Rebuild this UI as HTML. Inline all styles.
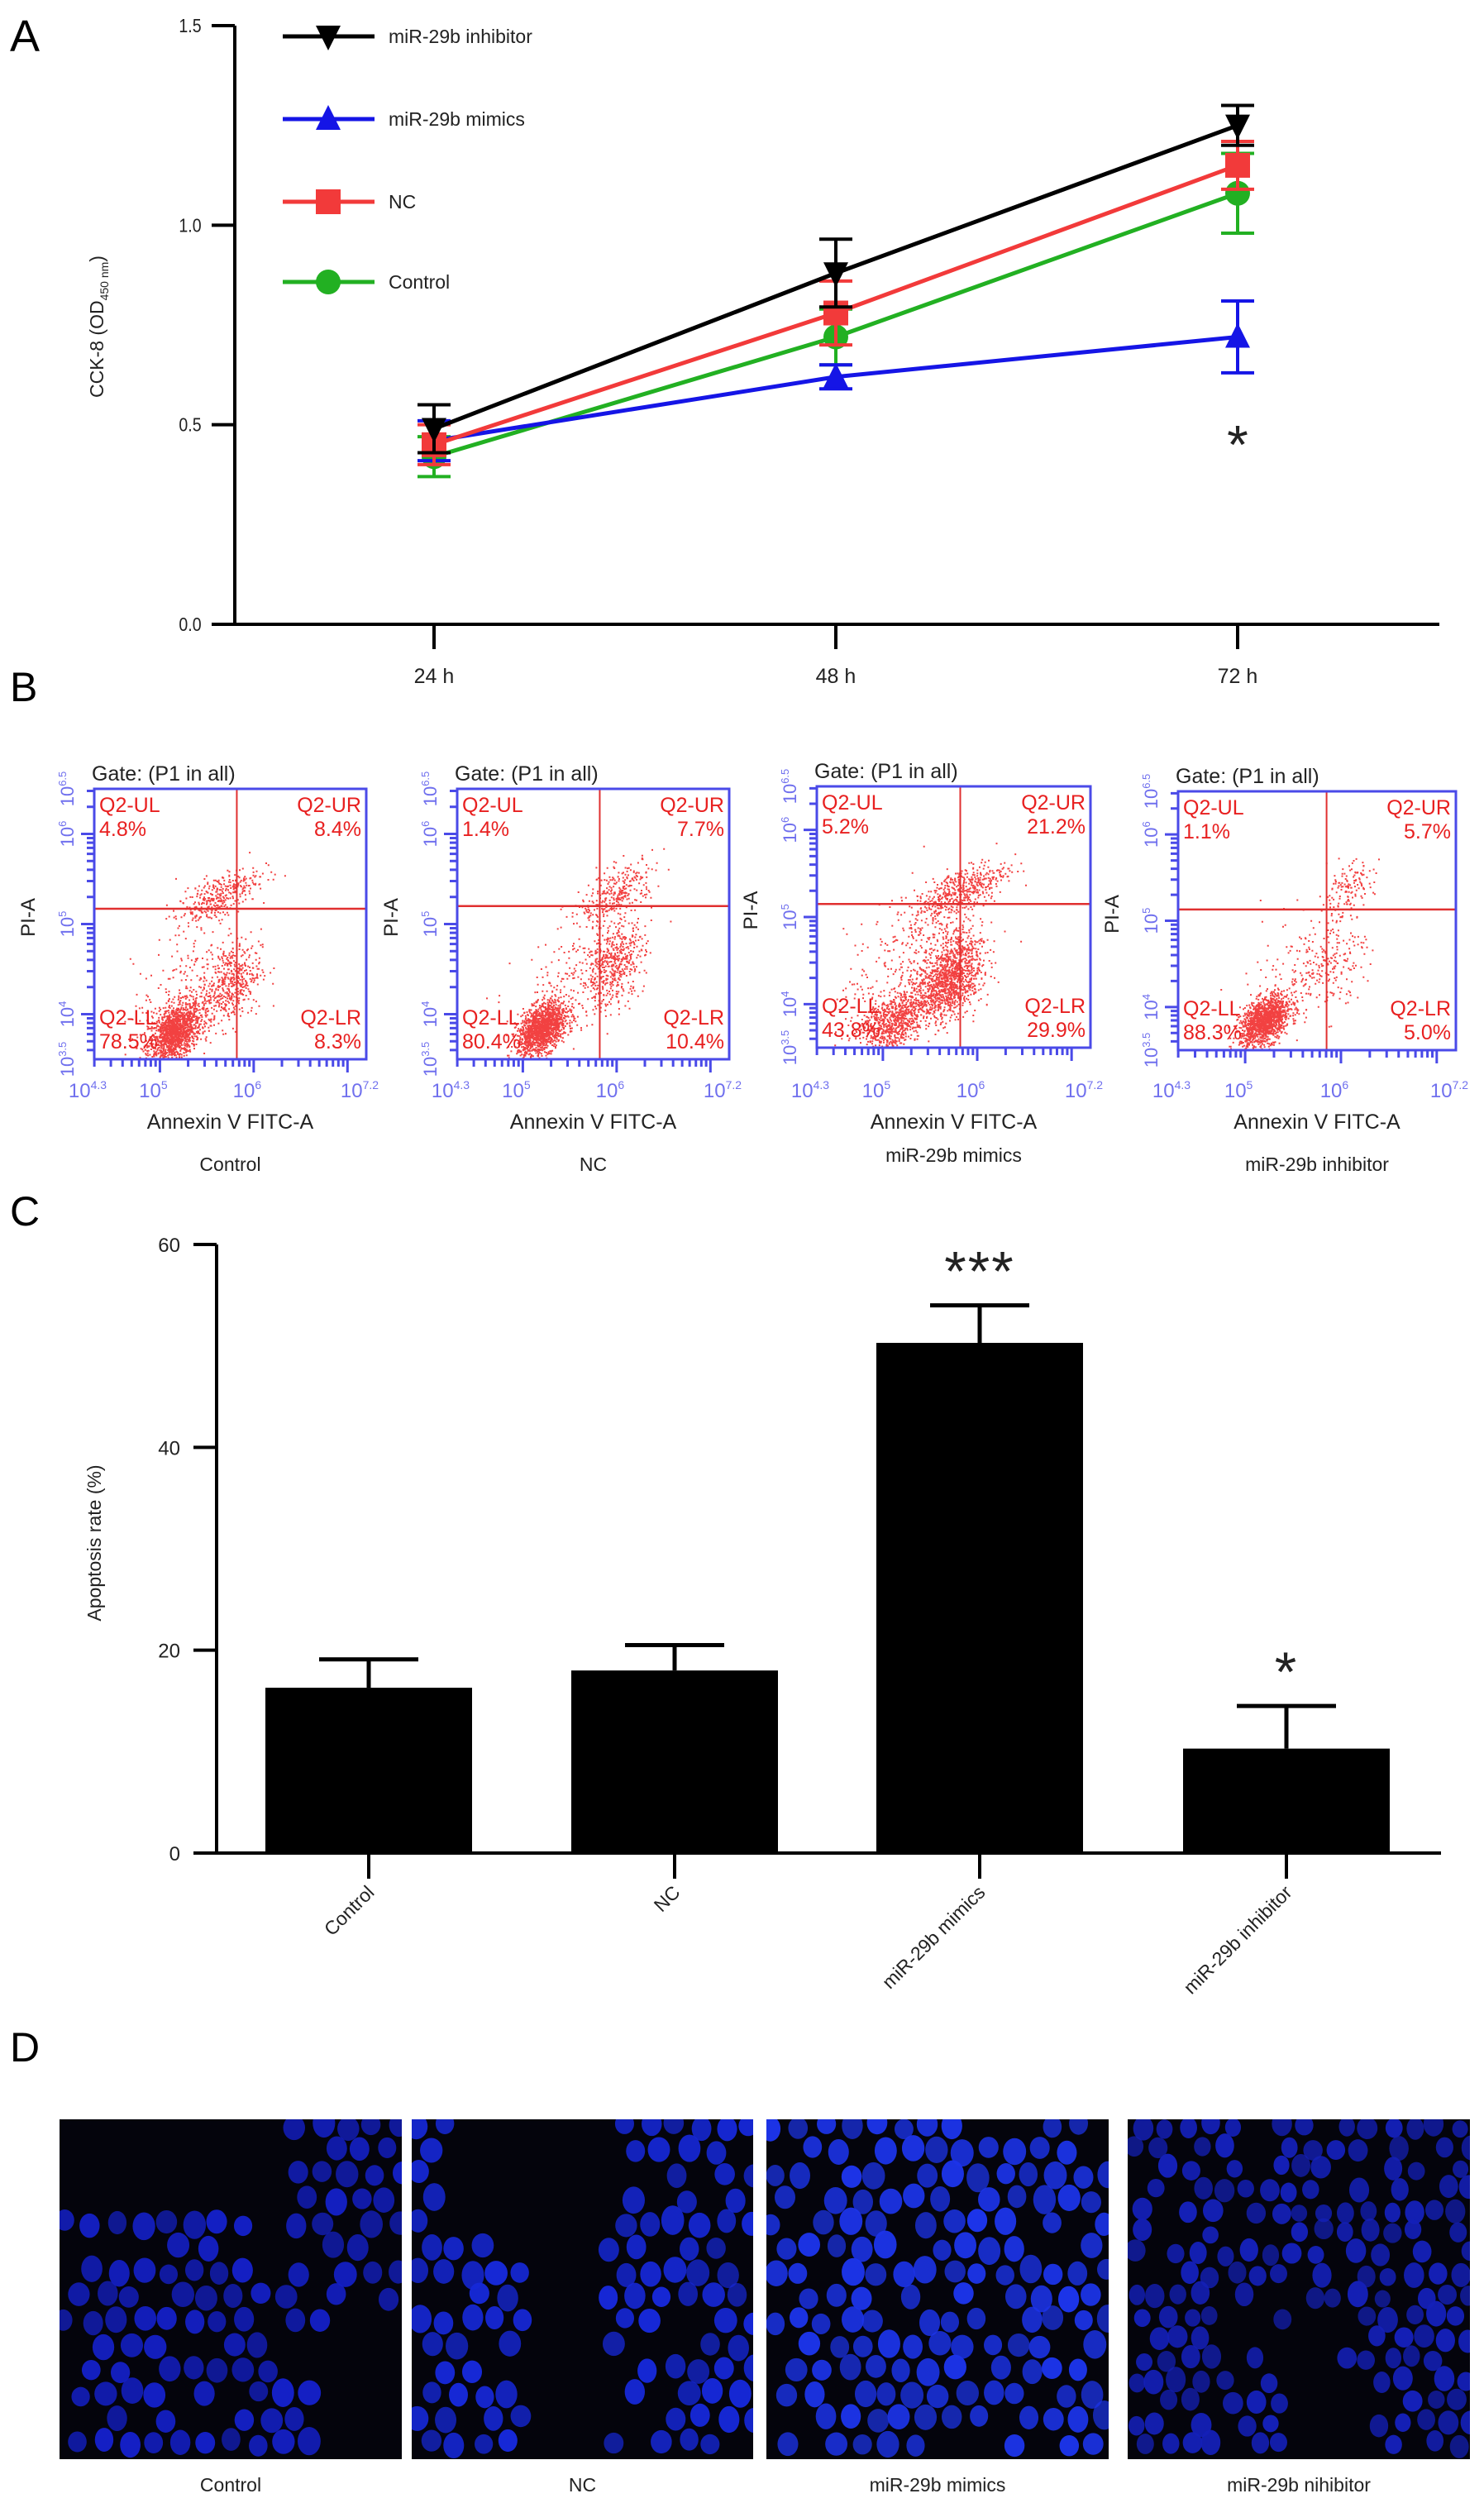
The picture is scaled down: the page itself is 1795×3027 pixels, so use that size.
<!DOCTYPE html>
<html><head><meta charset="utf-8">
<style>
html,body{margin:0;padding:0;background:#fff;}
svg{display:block;font-family:"Liberation Sans",Arial,sans-serif;}
</style></head>
<body>
<svg id="fig" width="1795" height="3027" viewBox="0 0 1795 3027" xmlns="http://www.w3.org/2000/svg">
<rect width="1795" height="3027" fill="#fff"/>
<g id="panelA"></g>
<g id="panelB"></g>
<g id="panelC"></g>
<g id="panelD"></g>
</svg>
<script>
// ===== Panel A data =====
const timeLabels = ["24 h","48 h","72 h"];
const seriesNames = ["miR-29b inhibitor","miR-29b mimics","NC","Control"];
const inhibitorVals = [0.49,0.88,1.25];
const inhibitorErr = [0.06,0.085,0.05];
const mimicsVals = [0.46,0.62,0.72];
const mimicsErr = [0.05,0.03,0.09];
const ncVals = [0.45,0.78,1.15];
const ncErr = [0.05,0.08,0.06];
const controlVals = [0.42,0.72,1.08];
const controlErr = [0.05,0.07,0.10];
const yTicksA = [0,0.5,1.0,1.5];
const yTickLabelsA = ["0.0","0.5","1.0","1.5"];

// ===== Panel C data =====
const groupsC = ["Control","NC","miR-29b mimics","miR-29b inhibitor"];
const apoptosisVals = [16.3,18.0,50.3,10.3];
const apoptosisErr = [2.8,2.5,3.7,4.2];
const sigMarks = ["","","***","*"];
const yTicksC = [0,20,40,60];

// ===== Panel B data =====
const flowSamples = ["Control","NC","miR-29b mimics","miR-29b inhibitor"];
const pctUL = ["4.8%","1.4%","5.2%","1.1%"];
const pctUR = ["8.4%","7.7%","21.2%","5.7%"];
const pctLL = ["78.5%","80.4%","43.8%","88.3%"];
const pctLR = ["8.3%","10.4%","29.9%","5.0%"];
// clusters: [x log, y log, sx, sy, count]
const clustersControl = [[5.15,3.8,0.14,0.15,1400],[5.75,4.35,0.16,0.22,450],[5.6,5.3,0.22,0.12,350],[5.3,4.3,0.3,0.3,200]];
const clustersNC = [[5.2,3.85,0.13,0.13,1500],[5.95,4.55,0.17,0.22,500],[6.0,5.35,0.2,0.14,300],[5.5,4.4,0.3,0.3,150]];
const clustersMimics = [[5.1,3.8,0.2,0.16,800],[5.7,4.3,0.17,0.22,1200],[5.8,5.3,0.25,0.13,500],[5.3,4.5,0.35,0.35,300]];
const clustersInhib = [[5.2,3.85,0.13,0.13,1400],[5.85,4.5,0.2,0.25,200],[6.05,5.35,0.14,0.15,140],[5.5,4.5,0.35,0.35,80]];
const xLogMin=4.3, xLogMax=7.2, yLogMin=3.5, yLogMax=6.5;
const gateX = [5.82,5.82,5.82,5.85], gateY = [5.17,5.2,5.15,5.13];

const NS="http://www.w3.org/2000/svg";
function mk(parent,tag,attrs,text){
  const e=document.createElementNS(NS,tag);
  for(const k in attrs) e.setAttribute(k,attrs[k]);
  if(text!==undefined) e.textContent=text;
  parent.appendChild(e);return e;
}
let seed=12345;
function rnd(){seed=(seed*1103515245+12345)%2147483648;return seed/2147483648;}
function gauss(){let u=rnd()||1e-9,v=rnd();return Math.sqrt(-2*Math.log(u))*Math.cos(2*Math.PI*v);}

// ========== PANEL A ==========
(function(){
  const g=document.getElementById('panelA');
  const axX=284, y0=755, yTop=31, xR=1741;
  const yS=v=>y0-(v/1.5)*(y0-yTop);
  const xPos=[525,1011,1497];
  const xS=i=>xPos[0]+i*(xPos[2]-xPos[0])/2;
  let t=mk(g,'text',{x:12,y:62,'font-size':54,fill:'#000'},'A');
  
  let l=mk(g,'line',{x1:axX,y1:yTop,x2:axX,y2:y0+2,stroke:'#000','stroke-width':4});
  
  l=mk(g,'line',{x1:axX,y1:y0,x2:xR,y2:y0,stroke:'#000','stroke-width':4});
  
  yTicksA.forEach((v,i)=>{
    mk(g,'line',{x1:axX-28,y1:yS(v),x2:axX,y2:yS(v),stroke:'#000','stroke-width':4});
    const tt=mk(g,'text',{x:230,y:yS(v)+8,'font-size':23,'text-anchor':'middle',fill:'#222',transform:`translate(230 ${yS(v)}) scale(0.85 1) translate(-230 ${-yS(v)})`},yTickLabelsA[i]);
    
  });
  timeLabels.forEach((lab,i)=>{
    mk(g,'line',{x1:xS(i),y1:y0,x2:xS(i),y2:y0+30,stroke:'#000','stroke-width':4});
    const tt=mk(g,'text',{x:xS(i),y:826,'font-size':25,'text-anchor':'middle',fill:'#222'},lab);
    
  });
  const yt=mk(g,'text',{x:0,y:0,'font-size':23,'text-anchor':'middle',fill:'#222',transform:'translate(125 395) rotate(-90)'});
  
  yt.innerHTML='CCK-8 (OD<tspan font-size="14" dy="6">450 nm</tspan><tspan dy="-6">)</tspan>';

  const series=[
    {name:seriesNames[3],vals:controlVals,err:controlErr,color:'#22b022',m:'circle'},
    {name:seriesNames[1],vals:mimicsVals,err:mimicsErr,color:'#1515e6',m:'up'},
    {name:seriesNames[2],vals:ncVals,err:ncErr,color:'#f23a3a',m:'square'},
    {name:seriesNames[0],vals:inhibitorVals,err:inhibitorErr,color:'#000',m:'down'}
  ];
  function marker(p,type,x,y,c){
    let e;
    if(type==='circle') e=mk(p,'circle',{cx:x,cy:y,r:15,fill:c});
    else if(type==='square') e=mk(p,'rect',{x:x-15,y:y-15,width:30,height:30,fill:c});
    else if(type==='up') e=mk(p,'polygon',{points:`${x},${y-17} ${x-15},${y+13} ${x+15},${y+13}`,fill:c});
    else e=mk(p,'polygon',{points:`${x},${y+17} ${x-15},${y-13} ${x+15},${y-13}`,fill:c});
    return e;
  }
  series.forEach(s=>{
    const sg=mk(g,'g',{});
    
    
    const pl=mk(sg,'polyline',{points:s.vals.map((v,i)=>xS(i)+','+yS(v)).join(' '),fill:'none',stroke:s.color,'stroke-width':5});
    
    s.vals.forEach((v,i)=>{
      const x=xS(i);
      const eb=mk(sg,'path',{d:`M${x},${yS(v-s.err[i])}V${yS(v+s.err[i])}M${x-20},${yS(v+s.err[i])}H${x+20}M${x-20},${yS(v-s.err[i])}H${x+20}`,stroke:s.color,'stroke-width':4,fill:'none'});
      
      const mm=marker(sg,s.m,x,yS(v),s.color);
      
    });
  });
  const star=mk(g,'text',{x:xS(2),y:yS(0.49)+42,'font-size':66,'text-anchor':'middle',fill:'#222'},'*');
  
  // legend
  const legY=[44,144,244,341];
  const legOrder=[{n:seriesNames[0],c:'#000',m:'down'},{n:seriesNames[1],c:'#1515e6',m:'up'},{n:seriesNames[2],c:'#f23a3a',m:'square'},{n:seriesNames[3],c:'#22b022',m:'circle'}];
  legOrder.forEach((o,i)=>{
    const lg=mk(g,'g',{});
    
    mk(lg,'line',{x1:342,y1:legY[i],x2:453,y2:legY[i],stroke:o.c,'stroke-width':5});
    marker(lg,o.m,397,legY[i],o.c);
    mk(lg,'text',{x:470,y:legY[i]+8,'font-size':23,fill:'#222'},o.n);
  });
})();

// ========== PANEL B ==========
(function(){
  const g=document.getElementById('panelB');
  let t=mk(g,'text',{x:12,y:848,'font-size':50,fill:'#000'},'B');
  
  const boxes=[[114,954,329,327],[553,954,329,327],[988,951,331,316],[1425,957,336,313]];
  const clusters=[clustersControl,clustersNC,clustersMimics,clustersInhib];
  const sampleY=[1416,1416,1405,1416];
  const blue='#4a4ae8', red='#f02020';
  boxes.forEach((b,k)=>{
    const [bx,by,bw,bh]=b;
    const pg=mk(g,'g',{});
    
    
    const xS=v=>bx+(v-xLogMin)/(xLogMax-xLogMin)*bw;
    const yS=v=>by+bh-(v-yLogMin)/(yLogMax-yLogMin)*bh;
    let d='';
    clusters[k].forEach(c=>{
      for(let n=0;n<c[4];n++){
        const gx=gauss(), gy=gauss();
        const lx=c[0]+gx*c[2], ly=c[1]+gy*c[3]+gx*c[2]*0.5;
        const px=xS(lx), py=yS(ly);
        if(px<bx+2||px>bx+bw-2||py<by+2||py>by+bh-2) continue;
        d+=`M${px.toFixed(1)},${py.toFixed(1)}h2v2h-2z`;
      }
    });
    const dots=mk(pg,'path',{d:d,fill:red,opacity:0.85});
    
    mk(pg,'line',{x1:xS(gateX[k]),y1:by,x2:xS(gateX[k]),y2:by+bh,stroke:'#e03030','stroke-width':2});
    mk(pg,'line',{x1:bx,y1:yS(gateY[k]),x2:bx+bw,y2:yS(gateY[k]),stroke:'#e03030','stroke-width':2.5});
    const rb=mk(pg,'rect',{x:bx,y:by,width:bw,height:bh,fill:'none',stroke:blue,'stroke-width':3});
    
    let tk='';
    for(let e=4;e<=7;e++){for(let m=1;m<10;m++){const v=e+Math.log10(m);if(v<xLogMin||v>xLogMax)continue;const x=xS(v);tk+=`M${x},${by+bh}v${m===1?16:9}`;}}
    for(let e=3;e<=6;e++){for(let m=1;m<10;m++){const v=e+Math.log10(m);if(v<yLogMin||v>yLogMax)continue;const y=yS(v);tk+=`M${bx},${y}h${m===1?-16:-9}`;}}
    mk(pg,'path',{d:tk,stroke:blue,'stroke-width':3,fill:'none'});
    [[4.3,'4.3'],[5,'5'],[6,'6'],[7.2,'7.2']].forEach(p=>{
      const tl=mk(pg,'text',{x:xS(p[0])-8,y:1327,'font-size':24,'text-anchor':'middle',fill:'#7070ee'});
      tl.innerHTML=`10<tspan font-size="14" dy="-10">${p[1]}</tspan>`;
      
    });
    [[3.5,'3.5'],[4,'4'],[5,'5'],[6,'6'],[6.5,'6.5']].forEach(p=>{
      const y=yS(p[0]);
      const tl=mk(pg,'text',{x:0,y:0,'font-size':22,'text-anchor':'middle',fill:'#7070ee',transform:`translate(${bx-25} ${y}) rotate(-90)`});
      tl.innerHTML=`10<tspan font-size="13" dy="-9">${p[1]}</tspan>`;
      
    });
    const yl=mk(pg,'text',{x:0,y:0,'font-size':24,'text-anchor':'middle',fill:'#222',transform:`translate(${bx-72} ${by+bh/2-8}) rotate(-90)`},'PI-A');
    
    const xl=mk(pg,'text',{x:bx+bw/2,y:1365,'font-size':25,'text-anchor':'middle',fill:'#222'},'Annexin V FITC-A');
    
    const gt=mk(pg,'text',{x:bx-3,y:by-10,'font-size':25,fill:'#222'},'Gate: (P1 in all)');
    
    const fs=25;
    const q=[['Q2-UL',pctUL[k],bx+6,by+28,'start'],['Q2-UR',pctUR[k],bx+bw-6,by+28,'end'],['Q2-LL',pctLL[k],bx+6,by+bh-42,'start'],['Q2-LR',pctLR[k],bx+bw-6,by+bh-42,'end']];
    q.forEach(a=>{
      const qt=mk(pg,'text',{x:a[2],y:a[3],'font-size':fs,fill:'#e82020','text-anchor':a[4]},a[0]);
      
      const pt=mk(pg,'text',{x:a[2],y:a[3]+29,'font-size':fs,fill:'#e82020','text-anchor':a[4]},a[1]);
      
    });
    const sl=mk(pg,'text',{x:bx+bw/2,y:sampleY[k],'font-size':23,'text-anchor':'middle',fill:'#222'},flowSamples[k]);
    
  });
})();

// ========== PANEL C ==========
(function(){
  const g=document.getElementById('panelC');
  let t=mk(g,'text',{x:12,y:1482,'font-size':50,fill:'#000'},'C');
  
  const axX=262,y0=2241,yTop=1505,xR=1743;
  const yS=v=>y0-v/60*(y0-yTop);
  const xC=[446,816,1185,1556], bw=250;
  mk(g,'line',{x1:axX,y1:yTop,x2:axX,y2:y0+2,stroke:'#000','stroke-width':4});
  mk(g,'line',{x1:axX-28,y1:y0,x2:xR,y2:y0,stroke:'#000','stroke-width':4});
  yTicksC.forEach(v=>{
    mk(g,'line',{x1:axX-28,y1:yS(v),x2:axX,y2:yS(v),stroke:'#000','stroke-width':4});
    const tl=mk(g,'text',{x:218,y:yS(v)+9,'font-size':24,'text-anchor':'end',fill:'#222'},String(v));
    
  });
  const yt=mk(g,'text',{x:0,y:0,'font-size':23,'text-anchor':'middle',fill:'#222',transform:'translate(122 1866) rotate(-90)'},'Apoptosis rate (%)');
  
  groupsC.forEach((name,i)=>{
    const x=xC[i], v=apoptosisVals[i], e=apoptosisErr[i];
    const eb=mk(g,'path',{d:`M${x},${yS(v)}V${yS(v+e)}M${x-60},${yS(v+e)}H${x+60}`,stroke:'#000','stroke-width':5,fill:'none'});
    
    const r=mk(g,'rect',{x:x-bw/2,y:yS(v),width:bw,height:y0-yS(v),fill:'#000'});
    
    mk(g,'line',{x1:x,y1:y0,x2:x,y2:2272,stroke:'#000','stroke-width':4});
    const lb=mk(g,'text',{x:0,y:0,'font-size':23,'text-anchor':'end',fill:'#222',transform:`translate(${x+8} ${2290}) rotate(-45)`},name);
    
    if(sigMarks[i]){
      const s=mk(g,'text',{x:x,y:yS(v+e)-18,'font-size':68,'text-anchor':'middle',fill:'#222','letter-spacing':2},sigMarks[i]);
      
    }
  });
})();

// ========== PANEL D ==========
(function(){
  const g=document.getElementById('panelD');
  let t=mk(g,'text',{x:12,y:2493,'font-size':50,fill:'#000'},'D');
  
  const imgs=[[72,486,'Control'],[498,911,'NC'],[927,1341,'miR-29b mimics'],[1364,1778,'miR-29b nihibitor']];
  const top=2563,bot=2974;
  const masks=[
    (u,v)=> (u<0.8 && v>0.3 - 0.1*u && !(u>0.55 && v<0.45) && !(u>0.78)) || (u>0.68 && v<0.55) ? 0.8:0.0,
    (u,v)=> (u<0.33 && !(u>0.1&&v<0.35)) || u>0.57 ? 0.75 : 0.0,
    (u,v)=> 0.85,
    (u,v)=> (u<0.45 || v<0.55 || u>0.7) ? 0.72:0.03
  ];
  const bright=['#1420c8','#1628d8','#1c34ea','#1420b8'];
  imgs.forEach((im,k)=>{
    const [x1,x2,lab]=im;
    const ig=mk(g,'g',{});
    
    mk(ig,'rect',{x:x1,y:top,width:x2-x1,height:bot-top,fill:'#04040c'});
    const cp=mk(ig,'clipPath',{id:'cp'+k});mk(cp,'rect',{x:x1,y:top,width:x2-x1,height:bot-top});
    const cg=mk(ig,'g',{'clip-path':`url(#cp${k})`});
    const step=k===3?27:31;
    for(let yy=top+8;yy<bot;yy+=step*0.95){
      for(let xx=x1+8+((yy/step|0)%2)*step/2;xx<x2;xx+=step){
        const u=(xx-x1)/(x2-x1), v=(yy-top)/(bot-top);
        if(rnd()<masks[k](u,v)){
          const rr=(k===3?9.5:11)+rnd()*3;
          mk(cg,'ellipse',{cx:xx+(rnd()-0.5)*8,cy:yy+(rnd()-0.5)*8,rx:rr,ry:rr*(1.05+rnd()*0.25),fill:bright[k],opacity:0.7+rnd()*0.3});
        }
      }
    }
    const lt=mk(g,'text',{x:(x1+x2)/2,y:3013,'font-size':23,'text-anchor':'middle',fill:'#222'},lab);
    
  });
})();
</script>
</body></html>
